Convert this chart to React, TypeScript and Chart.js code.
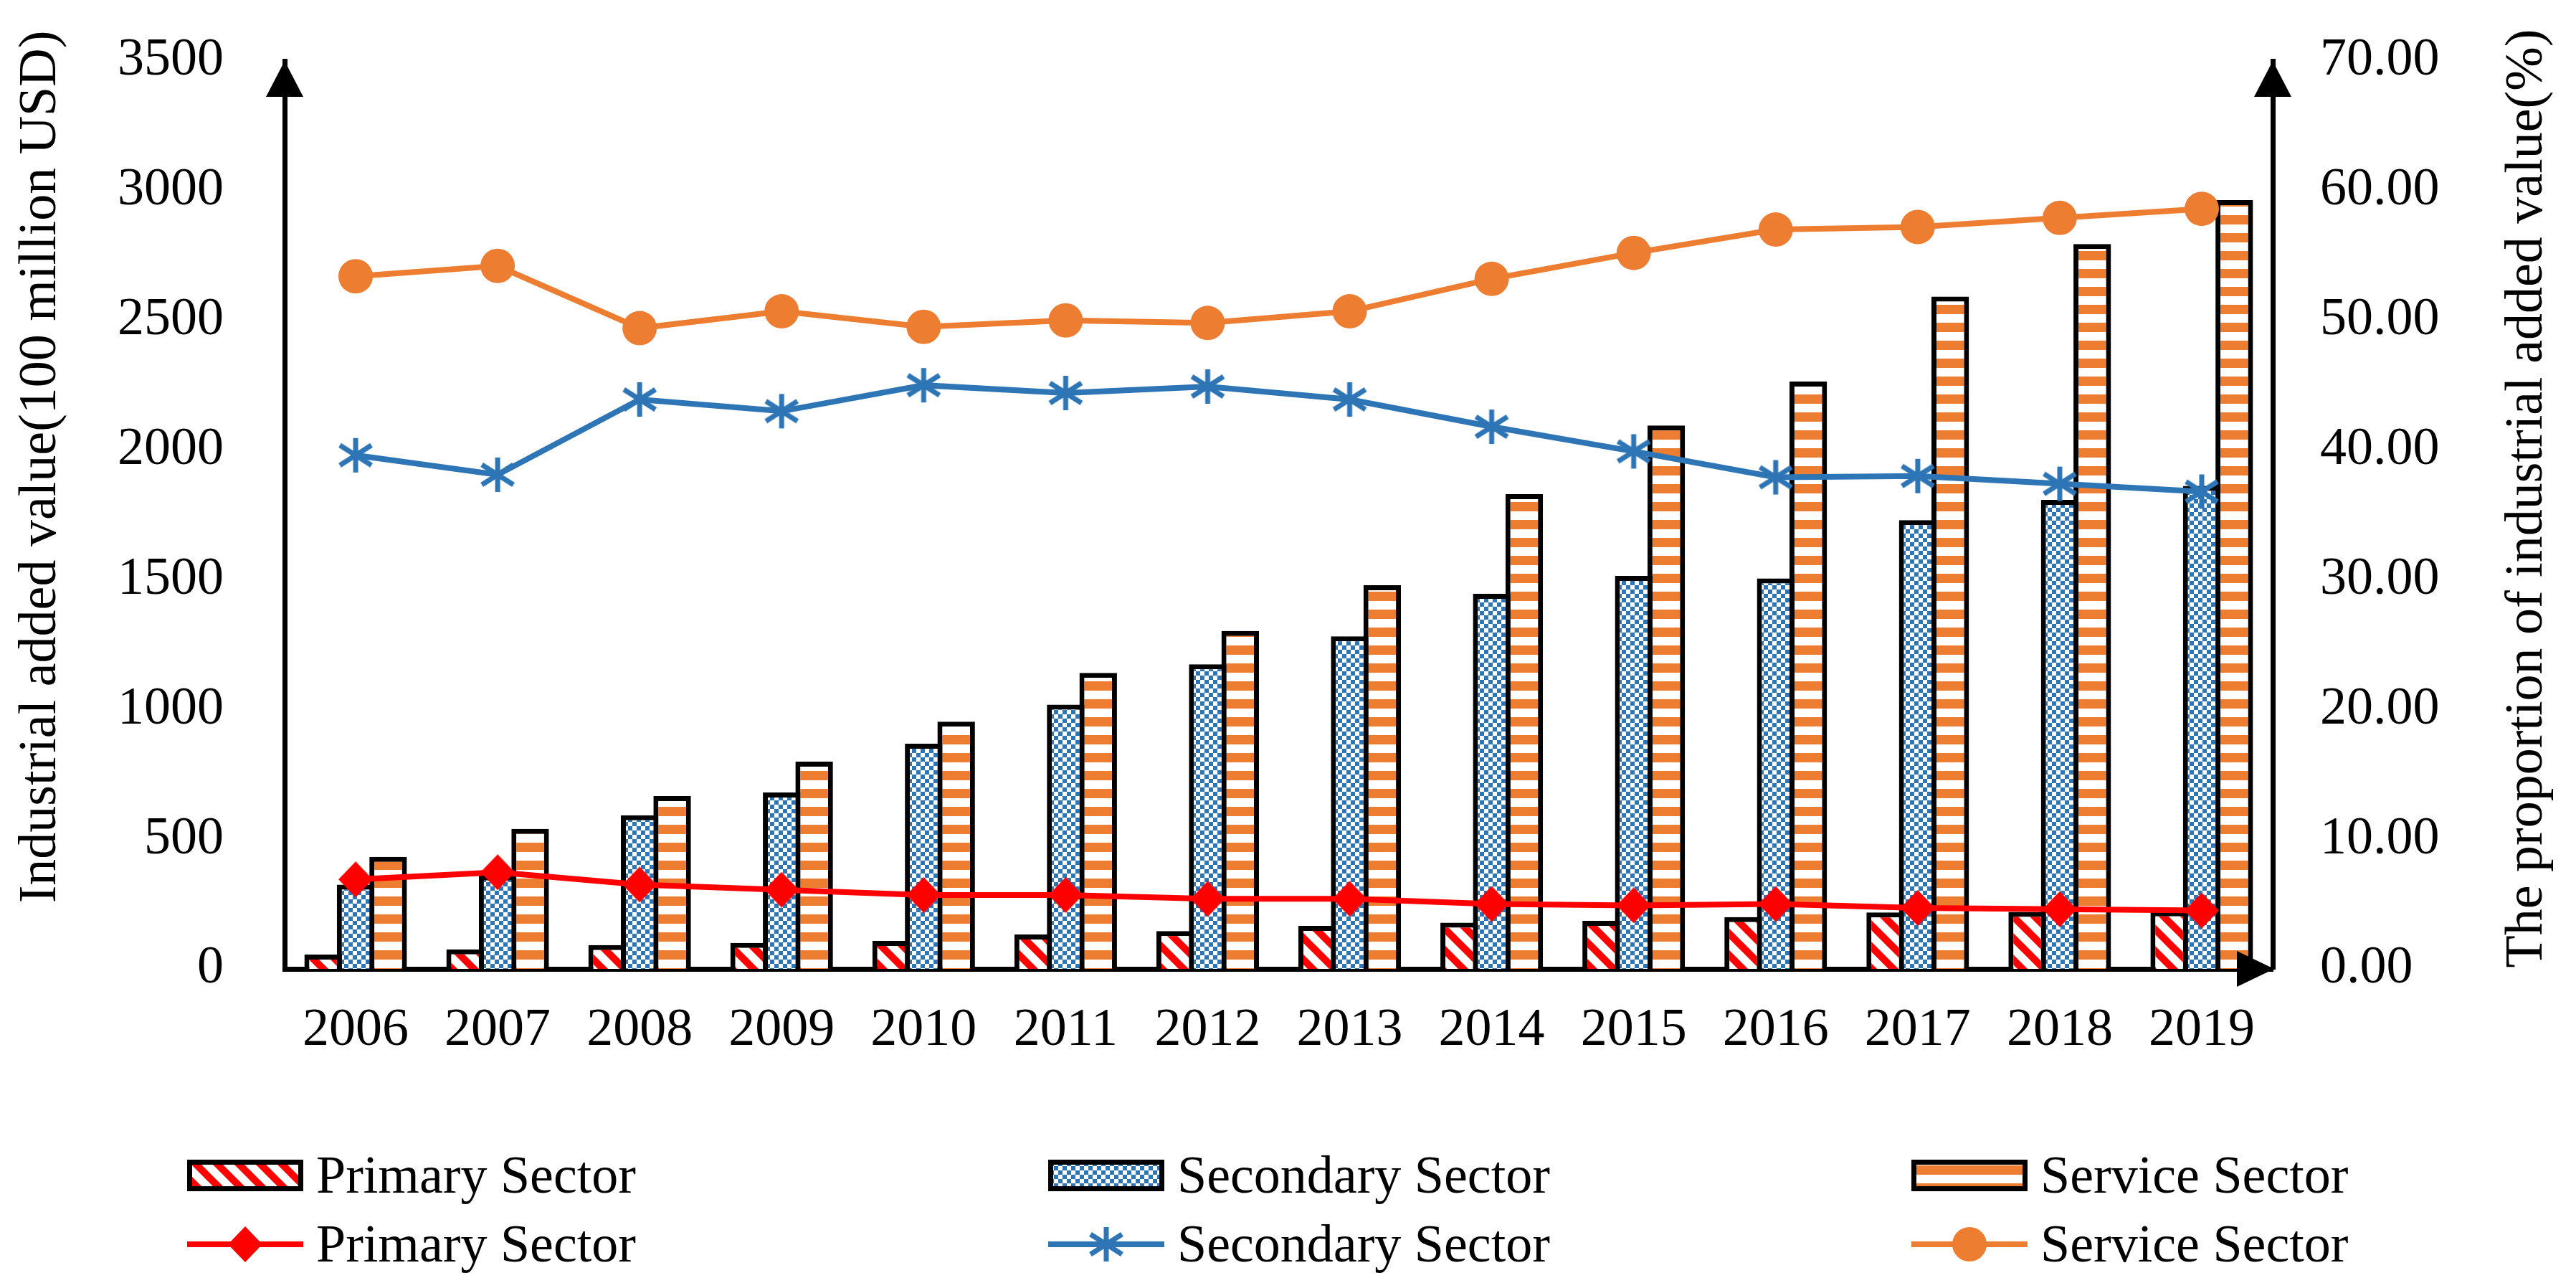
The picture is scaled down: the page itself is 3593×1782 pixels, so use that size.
import React, { useEffect, useRef } from "react";
import { Chart, registerables } from "chart.js";

Chart.register(...registerables);

// ---------- data ----------
const years = ["2006", "2007", "2008", "2009", "2010", "2011", "2012", "2013", "2014", "2015", "2016", "2017", "2018", "2019"];
// Industrial added value (100 million USD)
const primaryValue = [55, 75, 92, 100, 108, 133, 146, 166, 178, 185, 200, 218, 220, 222];
const secondaryValue = [325, 360, 592, 680, 868, 1019, 1174, 1282, 1446, 1515, 1505, 1730, 1808, 1862];
const serviceValue = [432, 540, 666, 799, 953, 1141, 1303, 1479, 1830, 2095, 2264, 2592, 2794, 2964];
// Proportion of industrial added value (%)
const primaryShare = [6.9, 7.45, 6.5, 6.1, 5.7, 5.7, 5.4, 5.4, 5.0, 4.9, 5.0, 4.7, 4.6, 4.5];
const secondaryShare = [39.6, 38.1, 43.9, 43.0, 45.0, 44.4, 44.9, 43.9, 41.8, 39.9, 37.9, 38.0, 37.4, 36.8];
const serviceShare = [53.4, 54.2, 49.4, 50.7, 49.5, 50.0, 49.8, 50.7, 53.2, 55.2, 57.0, 57.2, 57.9, 58.6];

const leftAxisMax = 3500;
const leftAxisStep = 500;
const rightAxisMax = 70;
const rightAxisStep = 10;

const leftTitle = "Industrial added value(100 million USD)";
const rightTitle = "The proportion of industrial added value(%)";
const seriesNames = ["Primary Sector", "Secondary Sector", "Service Sector"];

// ---------- style ----------
const RED = "#FF0000";
const BLUE = "#2E75B6";
const ORANGE = "#ED7D31";
const FONT = "'Liberation Serif', 'Times New Roman', serif";
const FS = 74;
const W = 3593;
const H = 1782;

function makePattern(w: number, h: number, draw: (c: CanvasRenderingContext2D) => void) {
  const cv = document.createElement("canvas");
  cv.width = w;
  cv.height = h;
  const c = cv.getContext("2d")!;
  c.fillStyle = "#FFFFFF";
  c.fillRect(0, 0, w, h);
  draw(c);
  return c.createPattern(cv, "repeat")!;
}

function makeStar(size: number, lw: number, color: string) {
  const cv = document.createElement("canvas");
  cv.width = size;
  cv.height = size;
  const c = cv.getContext("2d")!;
  c.strokeStyle = color;
  c.lineWidth = lw;
  c.lineCap = "butt";
  const m = size / 2;
  c.beginPath();
  c.moveTo(m, 1);
  c.lineTo(m, size - 1);
  c.moveTo(3, size * 0.22);
  c.lineTo(size - 3, size * 0.78);
  c.moveTo(3, size * 0.78);
  c.lineTo(size - 3, size * 0.22);
  c.stroke();
  return cv;
}

function makeDiamond(w: number, h: number, color: string) {
  const cv = document.createElement("canvas");
  cv.width = w;
  cv.height = h;
  const c = cv.getContext("2d")!;
  c.fillStyle = color;
  c.beginPath();
  c.moveTo(w / 2, 0);
  c.lineTo(w, h / 2);
  c.lineTo(w / 2, h);
  c.lineTo(0, h / 2);
  c.closePath();
  c.fill();
  return cv;
}

const noVerticalPadding = (s: any) => {
  s.paddingTop = 0;
  s.paddingBottom = 0;
};

export default function App() {
  const ref = useRef<HTMLCanvasElement | null>(null);

  useEffect(() => {
    if (!ref.current) return;

    const primaryPattern = makePattern(30, 30, (c) => {
      c.strokeStyle = RED;
      c.lineWidth = 10;
      c.beginPath();
      for (const o of [-30, 0, 30]) {
        c.moveTo(o - 5, -5);
        c.lineTo(o + 35, 35);
      }
      c.stroke();
    });
    const secondaryPattern = makePattern(12, 12, (c) => {
      c.fillStyle = BLUE;
      c.fillRect(0, 0, 6, 6);
      c.fillRect(6, 6, 6, 6);
    });
    const servicePattern = makePattern(4, 25, (c) => {
      c.fillStyle = ORANGE;
      c.fillRect(0, 0, 4, 13);
    });
    const starImg = makeStar(50, 7, BLUE);
    const diamondImg = makeDiamond(48, 50, RED);

    const decorations = {
      id: "decorations",
      afterDraw(chart: any) {
        const ctx: CanvasRenderingContext2D = chart.ctx;
        const a = chart.chartArea;
        ctx.save();
        ctx.fillStyle = "#000";
        // arrowheads
        const tri = (pts: number[][]) => {
          ctx.beginPath();
          ctx.moveTo(pts[0][0], pts[0][1]);
          ctx.lineTo(pts[1][0], pts[1][1]);
          ctx.lineTo(pts[2][0], pts[2][1]);
          ctx.closePath();
          ctx.fill();
        };
        tri([[a.left, a.top], [a.left - 26, a.top + 50], [a.left + 26, a.top + 50]]);
        tri([[a.right, a.top], [a.right - 26, a.top + 50], [a.right + 26, a.top + 50]]);
        tri([[a.right + 2, a.bottom], [a.right - 50, a.bottom - 25], [a.right - 50, a.bottom + 25]]);

        // axis titles (both read bottom-to-top)
        ctx.font = `${FS}px ${FONT}`;
        ctx.textAlign = "center";
        ctx.textBaseline = "alphabetic";
        ctx.save();
        ctx.translate(77, 651);
        ctx.rotate(-Math.PI / 2);
        ctx.fillText(leftTitle, 0, 0);
        ctx.restore();
        ctx.save();
        ctx.translate(3545, 695);
        ctx.rotate(-Math.PI / 2);
        ctx.fillText(rightTitle, 0, 0);
        ctx.restore();

        // legend
        const cols = [261, 1462, 2666];
        const patterns = [primaryPattern, secondaryPattern, servicePattern];
        const colors = [RED, BLUE, ORANGE];
        const markers = [diamondImg, starImg, null];
        const bw = 162;
        const row1 = 1639;
        const row2 = 1735;
        ctx.textAlign = "left";
        for (let i = 0; i < 3; i++) {
          const x = cols[i];
          // bar swatch
          ctx.fillStyle = patterns[i];
          ctx.fillRect(x, row1 - 22, bw, 44);
          ctx.strokeStyle = "#000";
          ctx.lineWidth = 7;
          ctx.strokeRect(x + 3.5, row1 - 22 + 3.5, bw - 7, 44 - 7);
          ctx.fillStyle = "#000";
          ctx.fillText(seriesNames[i], x + 180, 1663);
          // line swatch
          ctx.strokeStyle = colors[i];
          ctx.lineWidth = 8;
          ctx.beginPath();
          ctx.moveTo(x, row2);
          ctx.lineTo(x + bw, row2);
          ctx.stroke();
          const cx = x + bw / 2;
          const mk = markers[i];
          if (mk) {
            ctx.drawImage(mk, cx - mk.width / 2, row2 - mk.height / 2);
          } else {
            ctx.fillStyle = ORANGE;
            ctx.beginPath();
            ctx.arc(cx, row2, 24, 0, Math.PI * 2);
            ctx.fill();
          }
          ctx.fillStyle = "#000";
          ctx.fillText(seriesNames[i], x + 180, 1759);
        }
        ctx.restore();
      },
    };

    const barCommon = {
      type: "bar" as const,
      yAxisID: "y",
      borderColor: "#000",
      borderWidth: 7,
      borderSkipped: "start" as const,
      categoryPercentage: 0.687,
      barPercentage: 1.155,
      order: 2,
    };
    const lineCommon = {
      type: "line" as const,
      yAxisID: "y1",
      borderWidth: 8,
      tension: 0,
      fill: false,
      order: 0,
    };

    const chart = new Chart(ref.current, {
      type: "bar",
      data: {
        labels: years,
        datasets: [
          { ...barCommon, label: seriesNames[0], data: primaryValue, backgroundColor: primaryPattern },
          { ...barCommon, label: seriesNames[1], data: secondaryValue, backgroundColor: secondaryPattern },
          { ...barCommon, label: seriesNames[2], data: serviceValue, backgroundColor: servicePattern },
          {
            ...lineCommon,
            label: seriesNames[0],
            data: primaryShare,
            borderColor: RED,
            pointStyle: diamondImg,
            pointRadius: 25,
            pointBackgroundColor: RED,
            pointBorderColor: RED,
          },
          {
            ...lineCommon,
            label: seriesNames[1],
            data: secondaryShare,
            borderColor: BLUE,
            pointStyle: starImg,
            pointRadius: 25,
            pointBackgroundColor: BLUE,
            pointBorderColor: BLUE,
          },
          {
            ...lineCommon,
            label: seriesNames[2],
            data: serviceShare,
            borderColor: ORANGE,
            pointStyle: "circle",
            pointRadius: 24,
            pointBackgroundColor: ORANGE,
            pointBorderColor: ORANGE,
            pointBorderWidth: 0,
          },
        ] as any,
      },
      options: {
        animation: false,
        responsive: true,
        maintainAspectRatio: false,
        devicePixelRatio: 1,
        layout: { padding: { top: 85, left: 0, right: 0, bottom: 0 } },
        plugins: {
          legend: { display: false },
          tooltip: { enabled: false },
          title: { display: false },
        },
        scales: {
          x: {
            grid: { display: false, drawTicks: false },
            border: { display: true, color: "#000", width: 7 },
            ticks: { color: "#000", font: { family: FONT, size: FS }, padding: 42, maxRotation: 0, autoSkip: false },
            afterFit: (s: any) => {
              s.height = H - 1351;
            },
          },
          y: {
            position: "left",
            min: 0,
            max: leftAxisMax,
            grid: { display: false, drawTicks: false },
            border: { display: true, color: "#000", width: 7 },
            ticks: {
              stepSize: leftAxisStep,
              color: "#000",
              font: { family: FONT, size: FS },
              padding: 85,
              callback: (v: any) => String(v),
            },
            afterFit: (s: any) => {
              s.width = 397;
              noVerticalPadding(s);
            },
          },
          y1: {
            position: "right",
            min: 0,
            max: rightAxisMax,
            grid: { display: false, drawTicks: false },
            border: { display: true, color: "#000", width: 7 },
            ticks: {
              stepSize: rightAxisStep,
              color: "#000",
              font: { family: FONT, size: FS },
              padding: 66,
              callback: (v: any) => Number(v).toFixed(2),
            },
            afterFit: (s: any) => {
              s.width = W - 3170;
              noVerticalPadding(s);
            },
          },
        },
      } as any,
      plugins: [decorations],
    });

    return () => chart.destroy();
  }, []);

  return (
    <div style={{ position: "absolute", left: 0, top: 0, width: W, height: H, background: "#fff" }}>
      <canvas ref={ref} />
    </div>
  );
}
